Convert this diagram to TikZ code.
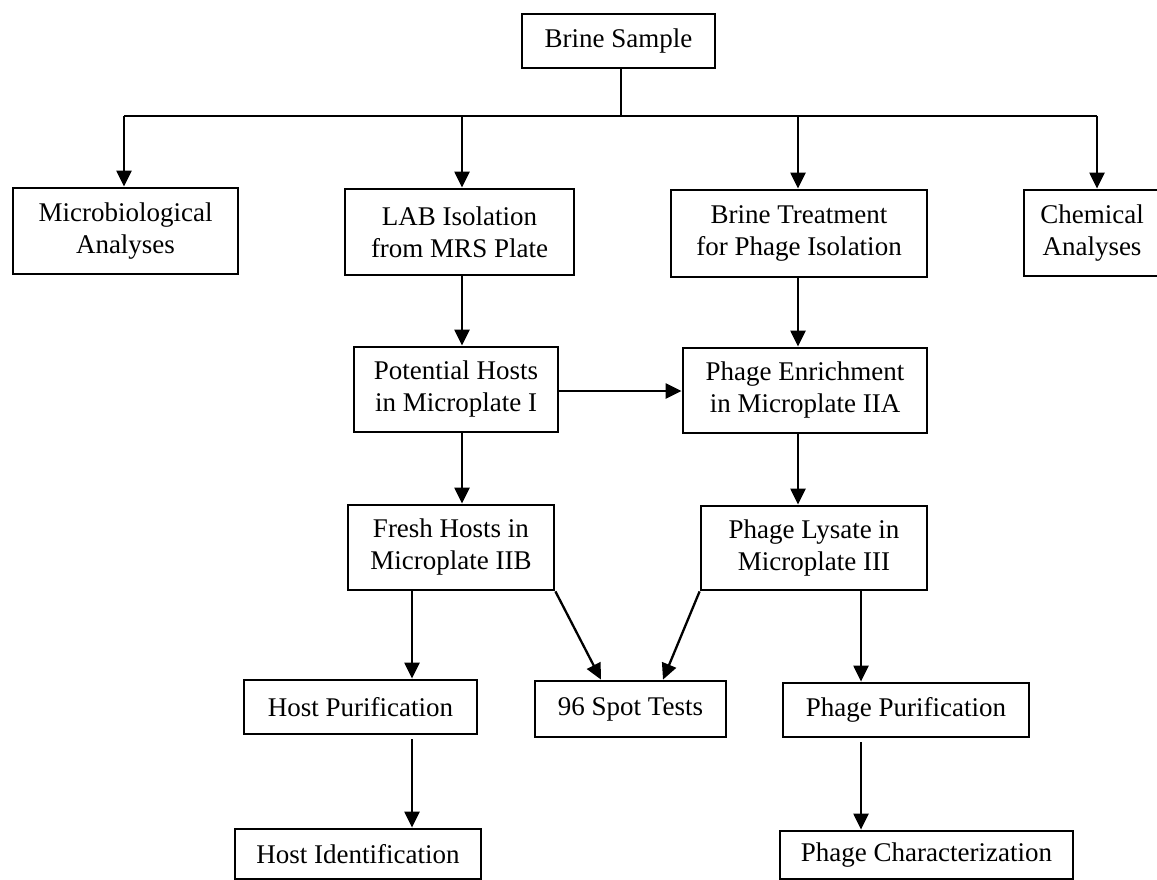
\documentclass[tikz,border=0pt]{standalone}
\usepackage{fontspec}
\setmainfont{Liberation Serif}
\usetikzlibrary{arrows.meta}
\tikzset{
  box/.style={draw=black, line width=2.8pt, fill=white, inner sep=0pt, align=center,
    font=\fontsize{27}{32}\selectfont},
  ln/.style={draw=black, line width=2.3pt},
  arr/.style={ln, -{Triangle[length=16pt,width=15pt]}},
}
\begin{document}
\begin{tikzpicture}[x=1pt,y=-1pt]
\useasboundingbox (0,0) rectangle (1157,880);
% nodes (centres and sizes in px)
\node[box, minimum width=193pt, minimum height=54pt] (brine) at (618.5,41) {Brine Sample};
\node[box, minimum width=225pt, minimum height=86pt] (micro) at (125.5,231) {Microbiological\\Analyses};
\node[box, minimum width=229pt, minimum height=86pt] (lab) at (459.5,232) {LAB Isolation\\from MRS Plate};
\node[box, minimum width=256pt, minimum height=87pt] (treat) at (799,233.5) {Brine Treatment\\for Phage Isolation};
\node[box, minimum width=136pt, minimum height=86pt] (chem) at (1092,233) {Chemical\\Analyses};
\node[box, minimum width=204pt, minimum height=85pt] (pot) at (456,389.5) {Potential Hosts\\in Microplate I};
\node[box, minimum width=244pt, minimum height=85pt] (enr) at (805,390.5) {Phage Enrichment\\in Microplate IIA};
\node[box, minimum width=206pt, minimum height=85pt] (fresh) at (451,547.5) {Fresh Hosts in\\Microplate IIB};
\node[box, minimum width=226pt, minimum height=84pt] (lys) at (814,548) {Phage Lysate in\\Microplate III};
\node[box, minimum width=233pt, minimum height=54pt] (hpur) at (360.5,707) {Host Purification};
\node[box, minimum width=191pt, minimum height=56pt] (spot) at (630.5,709) {96 Spot Tests};
\node[box, minimum width=246pt, minimum height=54pt] (ppur) at (906,710) {Phage Purification};
\node[box, minimum width=246pt, minimum height=50pt] (hid) at (358,854) {Host Identification};
\node[box, minimum width=293pt, minimum height=48pt] (pchar) at (926.5,855) {Phage Characterization};
% helper columns
\coordinate (bus) at (621,116);
\coordinate (cM) at (124,0);
\coordinate (cL) at (462,0);
\coordinate (cT) at (798,0);
\coordinate (cC) at (1097,0);
\coordinate (cH) at (412,0);
\coordinate (cP) at (861,0);
% connectors
\draw[ln] (brine.south -| bus) -- (bus);
\draw[ln] (bus -| cM) -- (bus -| cC);
\draw[arr] (bus -| cM) -- (micro.north -| cM);
\draw[arr] (bus -| cL) -- (lab.north -| cL);
\draw[arr] (bus -| cT) -- (treat.north -| cT);
\draw[arr] (bus -| cC) -- (chem.north -| cC);
\draw[arr] (lab.south -| cL) -- (pot.north -| cL);
\draw[arr] (treat.south -| cT) -- (enr.north -| cT);
\draw[arr] (pot.east |- 0,391) -- (enr.west |- 0,391);
\draw[arr] (pot.south -| cL) -- (fresh.north -| cL);
\draw[arr] (enr.south -| cT) -- (lys.north -| cT);
\draw[arr] (fresh.south east) -- (spot.north -| 601,0);
\draw[arr] (lys.south west) -- (spot.north -| 663,0);
\draw[arr] (fresh.south -| cH) -- (hpur.north -| cH);
\draw[arr] (lys.south -| cP) -- (ppur.north -| cP);
\draw[arr] ([yshift=-4pt]hpur.south -| cH) -- (hid.north -| cH);
\draw[arr] ([yshift=-4pt]ppur.south -| cP) -- (pchar.north -| cP);
\end{tikzpicture}
\end{document}
